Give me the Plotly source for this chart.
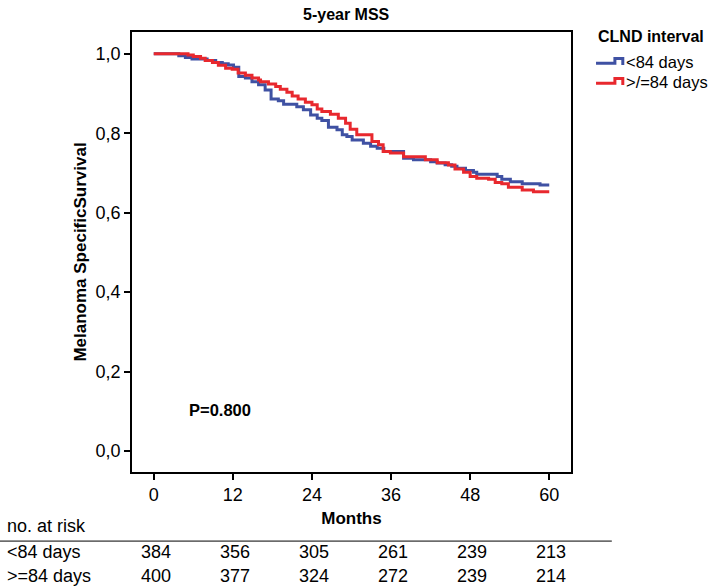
import plotly.graph_objects as go

# Kaplan-Meier step data (months, survival)
blue_months = [0, 3.8, 4.8, 5.8, 8.1, 9.4, 10.4, 11.3, 12.1, 12.9, 13.9, 14.9, 15.9, 16.9, 17.8,
               18.9, 19.7, 21.7, 22.7, 23.8, 24.8, 25.5, 26.5, 27.8, 28.6, 29.3, 30.1, 31.8,
               32.9, 33.9, 34.9, 37.9, 39.4, 42.0, 43.0, 44.2, 45.2, 46.0, 47.3, 48.5, 49.0,
               52.1, 52.8, 54.1, 55.9, 58.6, 60.0]
blue_surv = [1.0, 0.995, 0.991, 0.987, 0.983, 0.978, 0.975, 0.972, 0.966, 0.943, 0.939, 0.930,
             0.922, 0.909, 0.886, 0.882, 0.873, 0.867, 0.859, 0.846, 0.838, 0.832, 0.815, 0.809,
             0.796, 0.792, 0.783, 0.775, 0.767, 0.762, 0.754, 0.737, 0.733, 0.728, 0.725, 0.721,
             0.717, 0.712, 0.706, 0.702, 0.697, 0.691, 0.684, 0.678, 0.673, 0.670, 0.670]

red_months = [0, 5.2, 6.0, 7.1, 7.8, 8.9, 9.8, 10.9, 11.9, 12.8, 13.9, 14.9, 15.9, 16.2, 17.4,
              18.5, 19.2, 20.2, 21.0, 21.9, 23.0, 24.0, 24.8, 25.5, 26.8, 28.0, 29.1, 29.8,
              30.8, 33.1, 34.1, 34.8, 35.9, 37.9, 41.2, 43.0, 44.7, 45.7, 47.0, 48.0, 49.0,
              50.8, 51.8, 52.8, 53.8, 55.9, 57.6, 60.0]
red_surv = [1.0, 0.997, 0.993, 0.989, 0.983, 0.978, 0.971, 0.964, 0.961, 0.952, 0.946, 0.939,
            0.934, 0.930, 0.924, 0.918, 0.911, 0.903, 0.894, 0.886, 0.878, 0.872, 0.861, 0.855,
            0.848, 0.838, 0.825, 0.810, 0.796, 0.779, 0.771, 0.754, 0.750, 0.741, 0.733, 0.726,
            0.720, 0.710, 0.702, 0.691, 0.687, 0.684, 0.676, 0.673, 0.664, 0.657, 0.653, 0.653]

series_names = ["<84 days", ">/=84 days"]
risk_months = [0, 12, 24, 36, 48, 60]
risk_labels = ["<84 days", ">=84 days"]
risk_lt84 = [384, 356, 305, 261, 239, 213]
risk_ge84 = [400, 377, 324, 272, 239, 214]
y_ticks = [0.0, 0.2, 0.4, 0.6, 0.8, 1.0]
y_ticktext = ["0,0", "0,2", "0,4", "0,6", "0,8", "1,0"]

BLUE = "#3F51A3"
RED = "#E8282E"
FONT = "Liberation Sans, Arial, sans-serif"

fig = go.Figure()
fig.add_trace(go.Scatter(x=blue_months, y=blue_surv, mode="lines", line=dict(color=BLUE, width=3, shape="hv"),
                         name=series_names[0], showlegend=False))
fig.add_trace(go.Scatter(x=red_months, y=red_surv, mode="lines", line=dict(color=RED, width=3, shape="hv"),
                         name=series_names[1], showlegend=False))

annotations = []
shapes = []

# title
annotations.append(dict(text="<b>5-year MSS</b>", x=0.488, y=1.039, xref="paper", yref="paper",
                        showarrow=False, font=dict(size=16, color="black"), xanchor="center", yanchor="middle"))
# P value
annotations.append(dict(text="<b>P=0.800</b>", x=5.0, y=0.103, xref="x", yref="y", showarrow=False,
                        font=dict(size=16.5, color="black"), xanchor="left", yanchor="middle"))
# legend (custom step icons)
annotations.append(dict(text="<b>CLND interval</b>", x=1.056, y=0.989, xref="paper", yref="paper",
                        showarrow=False, font=dict(size=16, color="black"), xanchor="left", yanchor="middle"))
for i, (name, col) in enumerate(zip(series_names, [BLUE, RED])):
    dy = -0.0455 * i
    x0, x1, x2 = 1.057, 1.100, 1.118
    yb, yt, ye = 0.929 + dy, 0.940 + dy, 0.925 + dy
    shapes.append(dict(type="path", xref="paper", yref="paper",
                       path=f"M {x0} {yb} L {x1} {yb} L {x1} {yt} L {x2} {yt} L {x2} {ye}",
                       line=dict(color=col, width=3)))
    annotations.append(dict(text=name, x=1.120, y=0.931 + dy, xref="paper", yref="paper", showarrow=False,
                            font=dict(size=16.5, color="black"), xanchor="left", yanchor="middle"))

# risk table
annotations.append(dict(text="no. at risk", x=-0.290, y=-0.123, xref="paper", yref="paper", showarrow=False,
                        font=dict(size=18, color="black"), xanchor="left", yanchor="middle"))
shapes.append(dict(type="line", xref="paper", yref="paper", x0=-0.301, x1=1.093, y0=-0.157, y1=-0.157,
                   line=dict(color="black", width=1)))
for row, (lab, vals) in enumerate(zip(risk_labels, [risk_lt84, risk_ge84])):
    yy = -0.182 - 0.054 * row
    annotations.append(dict(text=lab, x=-0.290, y=yy, xref="paper", yref="paper", showarrow=False,
                            font=dict(size=18, color="black"), xanchor="left", yanchor="middle"))
    for m, v in zip(risk_months, vals):
        annotations.append(dict(text=str(v), x=m + 0.3, y=yy, xref="x", yref="paper", showarrow=False,
                                font=dict(size=18, color="black"), xanchor="center", yanchor="middle"))

fig.update_layout(
    width=713, height=587,
    margin=dict(l=132, r=142, t=32, b=115),
    paper_bgcolor="white", plot_bgcolor="white",
    font=dict(family=FONT, color="black"),
    annotations=annotations, shapes=shapes,
    showlegend=False,
)
fig.update_xaxes(range=[-3.3, 63.3], tickvals=risk_months, showgrid=False, zeroline=False,
                 showline=True, linecolor="black", linewidth=1.5, mirror=True,
                 ticks="outside", ticklen=6, tickcolor="black", tickwidth=1.5,
                 tickfont=dict(size=18, family=FONT, color="black"),
                 title=dict(text="<b>Months</b>", font=dict(size=17, family=FONT, color="black"), standoff=8))
fig.update_yaxes(range=[-0.053, 1.055], tickvals=y_ticks, ticktext=y_ticktext, showgrid=False, zeroline=False,
                 showline=True, linecolor="black", linewidth=1.5, mirror=True,
                 ticks="outside", ticklen=6, tickcolor="black", tickwidth=1.5,
                 tickfont=dict(size=18, family=FONT, color="black"),
                 title=dict(text="<b>Melanoma SpecificSurvival</b>", font=dict(size=17, family=FONT, color="black"),
                            standoff=5))

fig.write_html("out.html", config={"displayModeBar": False},
               post_script="document.body.style.margin='0';document.body.style.padding='0';")
